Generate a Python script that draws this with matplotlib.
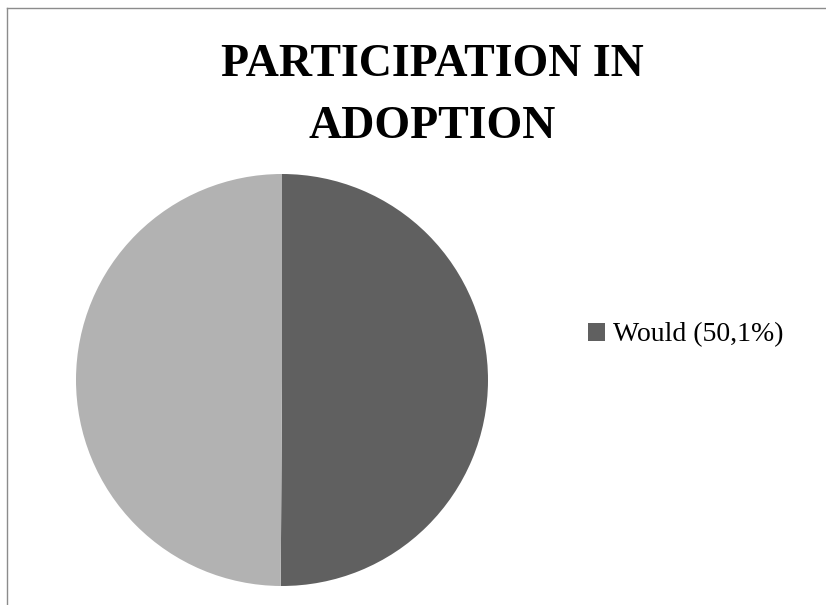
import matplotlib.pyplot as plt
from matplotlib.lines import Line2D

# chart data
labels = ['Would (50,1%)', 'Would not (49,9%)']
values = [50.1, 49.9]
colors = ['#606060', '#b2b2b2']
title_lines = ['PARTICIPATION IN', 'ADOPTION']

fig = plt.figure(figsize=(8.26, 6.05), dpi=100)
W, H = 826, 605

# pie: center ~(282, 380) px, radius ~206 px
ax = fig.add_axes([76 / W, (H - 586) / H, 412 / W, 412 / H])
wedges, _ = ax.pie(values, colors=colors, startangle=90, counterclock=False,
                   wedgeprops=dict(linewidth=0))
ax.set_xlim(-1, 1)
ax.set_ylim(-1, 1)
ax.set_aspect('equal')

# title
fig.text(432 / W, 1 - 65 / H, title_lines[0], ha='center', va='center',
         fontsize=33, fontweight='bold', family=['Liberation Serif', 'DejaVu Serif'])
fig.text(432 / W, 1 - 127 / H, title_lines[1], ha='center', va='center',
         fontsize=33, fontweight='bold', family=['Liberation Serif', 'DejaVu Serif'])

# legend shows only the first entry
leg = fig.legend([wedges[0]], [labels[0]], loc='center left',
                 bbox_to_anchor=(588 / W, 1 - 335 / H), frameon=False,
                 handlelength=0.6, handleheight=0.6, handletextpad=0.3,
                 borderpad=0, borderaxespad=0,
                 prop=dict(family=['Liberation Serif', 'DejaVu Serif'], size=20))

# chart area border (top and left visible)
fig.add_artist(Line2D([7.5 / W, 7.5 / W], [0, 1 - 8 / H], transform=fig.transFigure,
                      color='#8c8c8c', linewidth=1))
fig.add_artist(Line2D([7.5 / W, 1], [1 - 8 / H, 1 - 8 / H], transform=fig.transFigure,
                      color='#8c8c8c', linewidth=1))

fig.savefig('out.png', dpi=100, facecolor='white')
